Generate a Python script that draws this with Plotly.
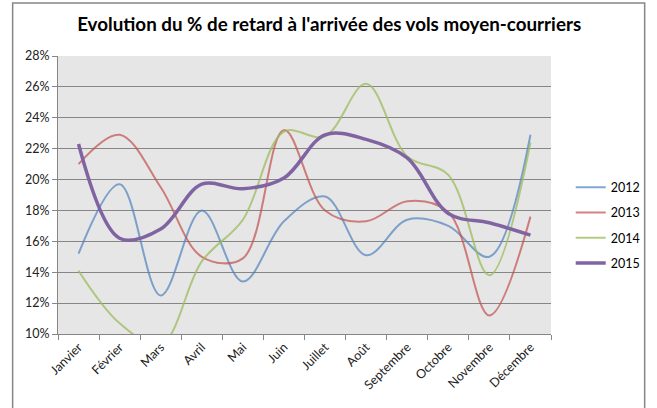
import plotly.graph_objects as go

months = ["Janvier", "Février", "Mars", "Avril", "Mai", "Juin", "Juillet",
          "Août", "Septembre", "Octobre", "Novembre", "Décembre"]
y2012 = [15.2, 19.7, 12.5, 18.0, 13.4, 17.3, 18.9, 15.1, 17.4, 17.0, 15.0, 22.9]
y2013 = [21.0, 22.9, 19.5, 15.0, 14.9, 23.2, 18.0, 17.3, 18.6, 17.9, 11.2, 17.6]
y2014 = [14.1, 10.7, 9.3, 14.7, 17.4, 23.1, 22.8, 26.2, 21.5, 20.3, 13.8, 22.4]
y2015 = [22.3, 16.2, 16.8, 19.7, 19.4, 20.1, 22.9, 22.6, 21.4, 17.8, 17.2, 16.4]
series_names = ["2012", "2013", "2014", "2015"]
colors = ["rgba(79,129,189,0.7)", "rgba(192,80,77,0.7)", "rgba(155,187,89,0.75)", "#8064A2"]
widths = [2, 2, 2, 3.5]

FONT = "Lato"
fig = go.Figure()
for name, vals, c, w in zip(series_names, [y2012, y2013, y2014, y2015], colors, widths):
    fig.add_trace(go.Scatter(
        x=months, y=[v / 100 for v in vals], name=name, mode="lines",
        line=dict(color=c, width=w, shape="spline", smoothing=1),
        legendgroup=name,
    ))

W, H = 657, 408
L, R, T, B = 58, 99, 56, 74
pw, ph = W - L - R, H - T - B

def px2paper_x(px):
    return (px - L) / pw

def px2paper_y(py):
    return (H - B - py) / ph

fig.add_shape(type="rect", xref="paper", yref="paper",
              x0=px2paper_x(12), x1=px2paper_x(653),
              y0=px2paper_y(420), y1=px2paper_y(3),
              line=dict(color="#868686", width=1.5), layer="below")

fig.update_layout(
    width=W, height=H,
    margin=dict(l=L, r=R, t=T, b=B),
    paper_bgcolor="white",
    plot_bgcolor="#e6e6e6",
    font=dict(family=FONT, size=12, color="#222"),
    title=dict(text="<b>Evolution du % de retard à l'arrivée des vols moyen-courriers</b>",
               x=px2paper_x(333), xref="paper", xanchor="center",
               y=1 - 24 / H, yanchor="middle", yref="container",
               font=dict(family=FONT, size=18.8, color="#000")),
    showlegend=True,
    legend=dict(x=px2paper_x(578), y=px2paper_y(225), xanchor="left", yanchor="middle",
                font=dict(family=FONT, size=12.5, color="#000"),
                tracegroupgap=6, bgcolor="rgba(0,0,0,0)", itemwidth=30),
    xaxis=dict(
        type="category", tickangle=-45, ticks="outside", ticklen=5,
        tickson="boundaries", tickcolor="#868686", showline=True,
        linecolor="#868686", linewidth=1, showgrid=False,
        tickfont=dict(family=FONT, size=12.5, color="#222"),
        range=[-0.5, 11.5],
    ),
    yaxis=dict(
        range=[0.10, 0.28], dtick=0.02, tickformat=".0%",
        ticks="outside", ticklen=5, tickcolor="#868686",
        showline=True, linecolor="#868686", linewidth=1,
        showgrid=True, gridcolor="#868686", gridwidth=1, zeroline=False,
        tickfont=dict(family=FONT, size=12.5, color="#222"),
    ),
)

fig.write_html("out.html", config={"displayModeBar": False},
               post_script="document.body.style.margin='0';")
